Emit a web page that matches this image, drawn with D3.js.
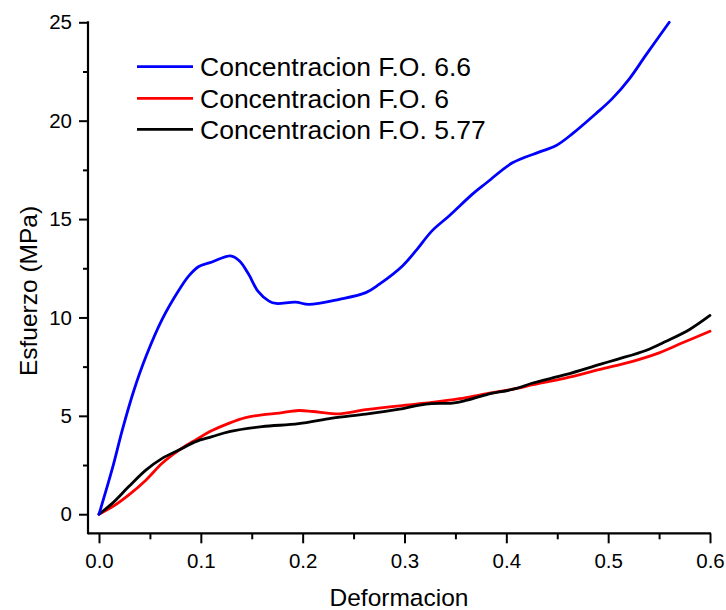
<!DOCTYPE html>
<html>
<head>
<meta charset="utf-8">
<script src="https://cdn.jsdelivr.net/npm/d3@7"></script>
<style>
  html, body { margin: 0; padding: 0; background: #fff; }
  svg { display: block; font-family: "Liberation Sans", Arial, sans-serif; }
</style>
</head>
<body>
<svg id="chart" width="726" height="610"></svg>
<script>
// ---- data ----
const seriesNames = ["Concentracion F.O. 6.6", "Concentracion F.O. 6", "Concentracion F.O. 5.77"];
const seriesColors = ["#0000ff", "#ff0000", "#000000"];

const blueX = [0, 0.013, 0.023, 0.034, 0.046, 0.062, 0.079, 0.088, 0.098, 0.111, 0.129, 0.138, 0.147, 0.156, 0.167, 0.174, 0.193, 0.206, 0.236, 0.262, 0.275, 0.298, 0.311, 0.327, 0.344, 0.367, 0.380, 0.406, 0.432, 0.449, 0.465, 0.488, 0.504, 0.521, 0.537, 0.560];
const blueY = [0, 2.3, 4.3, 6.25, 8.0, 9.9, 11.43, 12.1, 12.59, 12.82, 13.13, 12.87, 12.19, 11.34, 10.83, 10.71, 10.78, 10.66, 10.92, 11.26, 11.68, 12.62, 13.38, 14.40, 15.17, 16.28, 16.82, 17.86, 18.40, 18.74, 19.34, 20.36, 21.12, 22.14, 23.33, 25.0];

const redX = [0, 0.013, 0.029, 0.046, 0.062, 0.079, 0.095, 0.111, 0.128, 0.144, 0.160, 0.177, 0.196, 0.210, 0.233, 0.262, 0.295, 0.327, 0.354, 0.380, 0.409, 0.426, 0.458, 0.491, 0.524, 0.550, 0.573, 0.600];
const redY = [0, 0.37, 0.97, 1.73, 2.59, 3.27, 3.78, 4.25, 4.63, 4.91, 5.05, 5.14, 5.27, 5.22, 5.10, 5.31, 5.51, 5.68, 5.87, 6.12, 6.38, 6.58, 6.92, 7.35, 7.77, 8.20, 8.71, 9.30];

const blackX = [0, 0.013, 0.029, 0.046, 0.062, 0.079, 0.095, 0.111, 0.128, 0.160, 0.196, 0.229, 0.262, 0.295, 0.321, 0.347, 0.360, 0.380, 0.409, 0.426, 0.458, 0.491, 0.508, 0.537, 0.557, 0.580, 0.600];
const blackY = [0, 0.55, 1.39, 2.24, 2.84, 3.27, 3.69, 3.94, 4.20, 4.45, 4.60, 4.88, 5.09, 5.34, 5.60, 5.65, 5.78, 6.07, 6.38, 6.67, 7.09, 7.60, 7.86, 8.32, 8.79, 9.39, 10.10];

const xTicks = [0, 0.1, 0.2, 0.3, 0.4, 0.5, 0.6];
const xMinorTicks = [0.05, 0.15, 0.25, 0.35, 0.45, 0.55];
const yTicks = [0, 5, 10, 15, 20, 25];
const yMinorTicks = [2.5, 7.5, 12.5, 17.5, 22.5];
const xTitle = "Deformacion";
const yTitle = "Esfuerzo (MPa)";

// ---- layout ----
const svg = d3.select("#chart");
const mLeft = 88, mRight = 710, mTop = 22.3, mBottom = 533.3;

const x = d3.scaleLinear().domain([-0.0108, 0.6]).range([mLeft, mRight]);
const y = d3.scaleLinear().domain([-0.97, 25]).range([mBottom, mTop]);

const series = [
  { name: seriesNames[0], color: seriesColors[0], pts: blueX.map((v, i) => [v, blueY[i]]) },
  { name: seriesNames[1], color: seriesColors[1], pts: redX.map((v, i) => [v, redY[i]]) },
  { name: seriesNames[2], color: seriesColors[2], pts: blackX.map((v, i) => [v, blackY[i]]) }
];

const line = d3.line().x(d => x(d[0])).y(d => y(d[1])).curve(d3.curveCatmullRom.alpha(0.5));

[series[1], series[2], series[0]].forEach(s => {
  svg.append("path")
    .attr("d", line(s.pts))
    .attr("fill", "none")
    .attr("stroke", s.color)
    .attr("stroke-width", 2.8)
    .attr("stroke-linejoin", "round")
    .attr("stroke-linecap", "round");
});

// ---- axes ----
const xAxis = d3.axisBottom(x).tickValues(xTicks).tickFormat(d3.format(".1f")).tickSize(10).tickPadding(10);
const xMinor = d3.axisBottom(x).tickValues(xMinorTicks).tickFormat("").tickSize(6);
const yAxis = d3.axisLeft(y).tickValues(yTicks).tickFormat(d3.format("d")).tickSize(9).tickPadding(7);
const yMinor = d3.axisLeft(y).tickValues(yMinorTicks).tickFormat("").tickSize(5);

function styleAxis(g) {
  g.select(".domain").remove();
  g.selectAll("line").attr("stroke", "#000").attr("stroke-width", 2);
  g.selectAll("text").attr("fill", "#000").style("font-size", "20.5px").style("font-family", "'Liberation Sans', Arial, sans-serif");
}

svg.append("g").attr("transform", `translate(0,${mBottom})`).call(xAxis).call(styleAxis);
svg.append("g").attr("transform", `translate(0,${mBottom})`).call(xMinor).call(styleAxis);
svg.append("g").attr("transform", `translate(${mLeft},0)`).call(yAxis).call(styleAxis);
svg.append("g").attr("transform", `translate(${mLeft},0)`).call(yMinor).call(styleAxis);

svg.append("line").attr("x1", mLeft).attr("x2", mRight + 1).attr("y1", mBottom).attr("y2", mBottom)
  .attr("stroke", "#000").attr("stroke-width", 2.2);
svg.append("line").attr("x1", mLeft).attr("x2", mLeft).attr("y1", mTop - 1).attr("y2", mBottom + 1)
  .attr("stroke", "#000").attr("stroke-width", 2.2);

// titles
svg.append("text").attr("x", 399).attr("y", 606)
  .attr("text-anchor", "middle").style("font-size", "24.5px").attr("fill", "#000").text(xTitle);
svg.append("text").attr("transform", `translate(37,291) rotate(-90)`)
  .attr("text-anchor", "middle").style("font-size", "24.5px").attr("fill", "#000").text(yTitle);

// ---- legend ----
const legendY = [66.7, 98.3, 129.3];
series.forEach((s, i) => {
  svg.append("line").attr("x1", 137).attr("x2", 193).attr("y1", legendY[i]).attr("y2", legendY[i])
    .attr("stroke", s.color).attr("stroke-width", 2.8);
  svg.append("text").attr("x", 200).attr("y", legendY[i] + 9.5)
    .style("font-size", "26.5px").attr("fill", "#000").text(s.name);
});
</script>
</body>
</html>
